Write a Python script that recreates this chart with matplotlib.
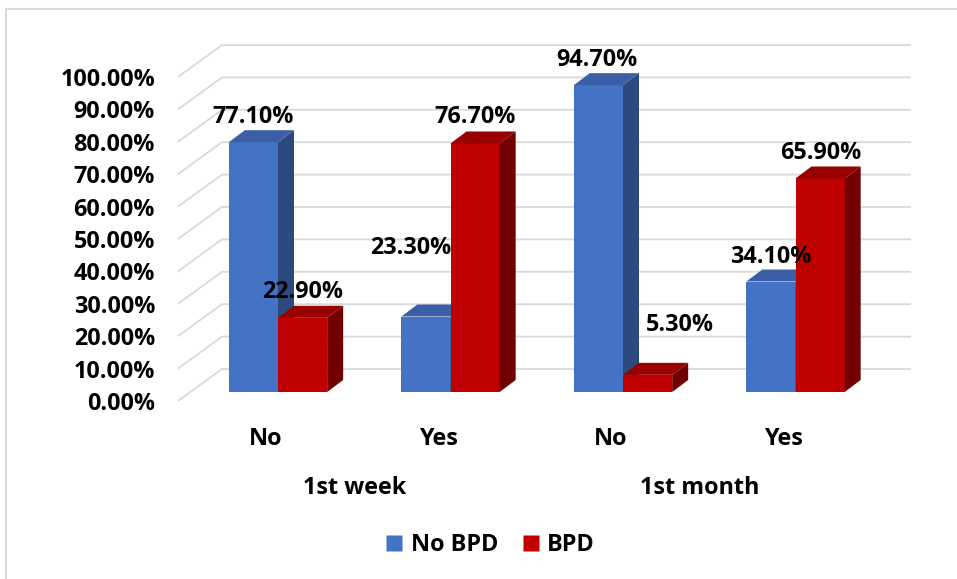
import matplotlib
matplotlib.use("Agg")
import matplotlib.pyplot as plt
from matplotlib.patches import Polygon
from matplotlib.lines import Line2D

# ---------------- data ----------------
categories = ["No", "Yes", "No", "Yes"]
groups = ["1st week", "1st month"]
series_names = ["No BPD", "BPD"]
no_bpd = [77.1, 23.3, 94.7, 34.1]
bpd = [22.9, 76.7, 5.3, 65.9]
yticks = [0, 10, 20, 30, 40, 50, 60, 70, 80, 90, 100]

# ---------------- style ----------------
W, H = 957, 579
PX_X = 172.5          # pixels per category unit
PX_Y = 3.24           # pixels per percent
X0_PX, Y0_PX = 278, 392
front_col = ["#4472C4", "#C00000"]
top_col = ["#3A5FA6", "#990000"]
side_col = ["#2C4A7E", "#730000"]
grid_col = "#d9d9d9"
FONT = "Open Sans"
FS = 16.8
bar_w = 0.285
# label offsets in pixels (dx, baseline height above bar top)
lab_dx = [[0, -15, -2, 0], [0, 0, 32, 1]]
lab_dy = [[19, 63, 19, 19], [20, 20, 44, 19]]

fig = plt.figure(figsize=(W / 100, H / 100), dpi=100)
ax = fig.add_axes([0, 0, 1, 1])
ax.set_xlim(-X0_PX / PX_X, (W - X0_PX) / PX_X)
ax.set_ylim(-(H - Y0_PX) / PX_Y, Y0_PX / PX_Y)
ax.axis("off")

def dx(px):
    return px / PX_X

def dy(px):
    return px / PX_Y

# depth geometry
bar_ddx, bar_ddy = dx(16), dy(12)
front_dx, front_dy = dx(-12.4), dy(-9)
back_dx, back_dy = dx(31.6), dy(23)
floor_left, floor_right = -0.508, 3.486

# gridlines (side wall diagonal + back wall)
for v in yticks:
    xs = [floor_left + front_dx, floor_left + back_dx, floor_right + back_dx]
    ys = [v + front_dy, v + back_dy, v + back_dy]
    ax.plot(xs, ys, color=grid_col, lw=1.3, zorder=1, solid_capstyle="butt")

# bars
xpos = list(range(len(categories)))
for i in xpos:
    for s, vals in enumerate([no_bpd, bpd]):
        v = vals[i]
        left = i - bar_w + s * bar_w
        right = left + bar_w
        z = 3 + 2 * i + s * 0.5
        ax.bar(left, v, width=bar_w, align="edge", color=front_col[s],
               edgecolor="none", zorder=z)
        top = Polygon([(left, v), (right, v), (right + bar_ddx, v + bar_ddy),
                       (left + bar_ddx, v + bar_ddy)], closed=True,
                      facecolor=top_col[s], edgecolor="none", zorder=z)
        side = Polygon([(right, 0), (right + bar_ddx, bar_ddy),
                        (right + bar_ddx, v + bar_ddy), (right, v)], closed=True,
                       facecolor=side_col[s], edgecolor="none", zorder=z)
        ax.add_patch(side)
        ax.add_patch(top)

# data labels
for s, vals in enumerate([no_bpd, bpd]):
    for i, v in enumerate(vals):
        cx = i - bar_w / 2 + s * bar_w + dx(lab_dx[s][i])
        ax.text(cx, v + dy(lab_dy[s][i]), f"{v:.2f}%", ha="center",
                va="baseline", fontsize=FS, fontweight="bold",
                family=FONT, color="black", zorder=20)

# y tick labels on the front edge
for v in yticks:
    ax.text(dx(155 - X0_PX), v + front_dy, f"{v:.2f}%", ha="right",
            va="center_baseline", fontsize=FS, fontweight="bold", family=FONT,
            color="black")

# category labels
for i, c in enumerate(categories):
    ax.text(i + front_dx, dy(-44), c, ha="center", va="center_baseline",
            fontsize=FS, fontweight="bold", family=FONT)
for g, name in enumerate(groups):
    ax.text(2 * g + 0.5 + front_dx + dx(3), dy(-93), name, ha="center",
            va="center_baseline", fontsize=FS, fontweight="bold", family=FONT)

# legend
handles = [Line2D([], [], marker="s", ls="none", markersize=11,
                  markerfacecolor=front_col[k], markeredgecolor="none")
           for k in range(2)]
fig.legend(handles, series_names, loc="center", ncol=2,
           bbox_to_anchor=(490 / W, 1 - 545 / H), frameon=False,
           prop={"family": FONT, "weight": "bold", "size": FS},
           handlelength=0.8, handletextpad=0.3, columnspacing=1.0)

# chart border (top and left visible)
fig.add_artist(Line2D([6 / W, 1], [1 - 9 / H, 1 - 9 / H], color=grid_col,
                      lw=1.5, transform=fig.transFigure))
fig.add_artist(Line2D([6 / W, 6 / W], [0, 1 - 9 / H], color=grid_col,
                      lw=1.5, transform=fig.transFigure))

fig.savefig("out.png", dpi=100)
